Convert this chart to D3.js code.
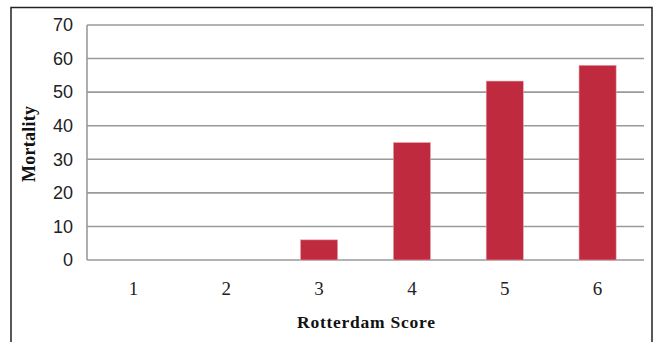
<!DOCTYPE html>
<html>
<head>
<meta charset="utf-8">
<script src="https://cdn.jsdelivr.net/npm/d3@7"></script>
<style>
  html, body { margin: 0; padding: 0; background: #fff; }
  svg { display: block; }
</style>
</head>
<body>
<svg id="chart" width="657" height="342"></svg>
<script>
// Mortality by Rotterdam score
const scores = ["1", "2", "3", "4", "5", "6"];
const mortality = [0, 0, 6, 35, 53.3, 58];
const yTicks = [0, 10, 20, 30, 40, 50, 60, 70];

const svg = d3.select("#chart");
const margin = { left: 87, right: 13, top: 25, bottom: 82 };
const W = 657, H = 342;

// outer frame
svg.append("rect")
  .attr("x", 11).attr("y", 7.5)
  .attr("width", 641).attr("height", 345)
  .attr("fill", "none").attr("stroke", "#222").attr("stroke-width", 1.5);

const x = d3.scaleBand()
  .domain(scores)
  .range([margin.left, W - margin.right])
  .paddingInner(0.6).paddingOuter(0.3);

const y = d3.scaleLinear()
  .domain([0, 70])
  .range([H - margin.bottom, margin.top]);

// horizontal gridlines
svg.append("g")
  .selectAll("line")
  .data(yTicks)
  .join("line")
  .attr("x1", margin.left).attr("x2", W - margin.right)
  .attr("y1", d => y(d)).attr("y2", d => y(d))
  .attr("stroke", "#9a9a9a").attr("stroke-width", 1.6);

// left axis line
svg.append("line")
  .attr("x1", margin.left).attr("x2", margin.left)
  .attr("y1", y(70)).attr("y2", y(0))
  .attr("stroke", "#9a9a9a").attr("stroke-width", 1.6);

// y tick labels
const yAxis = d3.axisLeft(y).tickValues(yTicks).tickSize(0).tickPadding(14);
const gy = svg.append("g")
  .attr("transform", `translate(${margin.left},0)`)
  .call(yAxis);
gy.select(".domain").remove();
gy.selectAll("text")
  .attr("font-family", "'Liberation Sans', Arial, sans-serif")
  .attr("font-size", 18)
  .attr("fill", "#222");

// bars
svg.append("g")
  .selectAll("rect")
  .data(scores.map((s, i) => ({ s, v: mortality[i] })))
  .join("rect")
  .attr("x", d => x(d.s))
  .attr("width", x.bandwidth())
  .attr("y", d => y(d.v))
  .attr("height", d => y(0) - y(d.v))
  .attr("fill", "#bf2a3e")
  .attr("stroke", "#e7a8ae").attr("stroke-width", 0.6);

// x tick labels
const xAxis = d3.axisBottom(x).tickSize(0).tickPadding(22);
const gx = svg.append("g")
  .attr("transform", `translate(0,${y(0)})`)
  .call(xAxis);
gx.select(".domain").remove();
gx.selectAll("text")
  .attr("font-family", "'Liberation Serif', 'Times New Roman', serif")
  .attr("font-size", 19)
  .attr("fill", "#222");

// axis titles
svg.append("text")
  .attr("x", 366).attr("y", 328)
  .attr("text-anchor", "middle")
  .attr("font-family", "'Liberation Serif', 'Times New Roman', serif")
  .attr("font-weight", "bold")
  .attr("font-size", 17.5)
  .attr("textLength", 138).attr("lengthAdjust", "spacing")
  .attr("fill", "#111")
  .text("Rotterdam Score");

svg.append("text")
  .attr("transform", "translate(35,144) rotate(-90)")
  .attr("text-anchor", "middle")
  .attr("font-family", "'Liberation Serif', 'Times New Roman', serif")
  .attr("font-weight", "bold")
  .attr("font-size", 18)
  .attr("textLength", 76).attr("lengthAdjust", "spacing")
  .attr("fill", "#111")
  .text("Mortality");
</script>
</body>
</html>
